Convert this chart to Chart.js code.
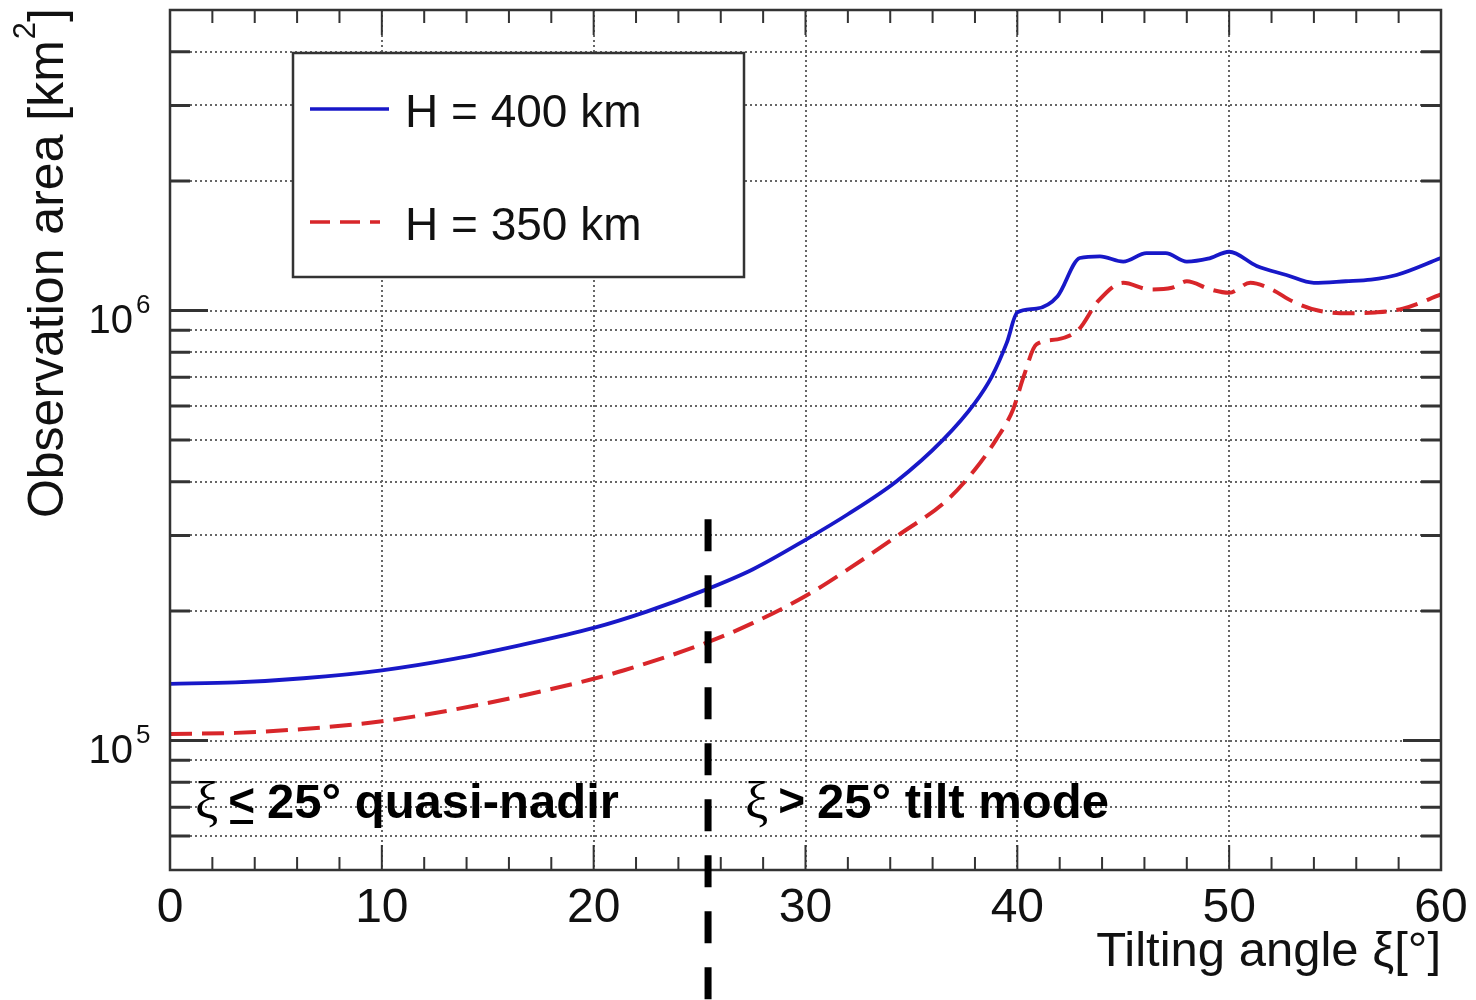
<!DOCTYPE html>
<html>
<head>
<meta charset="utf-8">
<script src="https://cdn.jsdelivr.net/npm/chart.js@4.4.1/dist/chart.umd.min.js"></script>
<style>
  html, body { margin:0; padding:0; background:#fff; }
  #wrap { width:1476px; height:1000px; position:relative; }
</style>
</head>
<body>
<div id="wrap"><canvas id="areaChart"></canvas></div>
<script>
// observation area [km2] against tilting angle, two orbit heights
const tilt400 = [0, 3.1, 6.3, 10, 13.4, 16.5, 20, 22.5, 25.3, 27.5, 30, 32, 34.3, 36.5, 38, 38.8, 39.5, 40,
  40.9, 41.9, 42.95, 43.9, 45, 46.1, 47, 48, 49, 50, 51.3, 52.7, 54, 55.5, 56.7, 57.9, 60];
const area400 = [1.355e5, 1.365e5, 1.396e5, 1.457e5, 1.549e5, 1.665e5, 1.828e5, 1.995e5, 2.244e5, 2.50e5, 2.93e5,
  3.36e5, 4.01e5, 5.01e5, 6.10e5, 7.03e5, 8.41e5, 9.9e5, 1.01e6, 1.08e6, 1.325e6, 1.337e6, 1.30e6, 1.36e6,
  1.36e6, 1.30e6, 1.32e6, 1.37e6, 1.27e6, 1.21e6, 1.16e6, 1.17e6, 1.18e6, 1.21e6, 1.325e6];

const tilt350 = [0, 3.1, 6.3, 10, 13.4, 16.5, 20, 21.4, 25.3, 27.5, 30, 32, 34.3, 36.7, 38, 39, 39.8, 40.3,
  40.9, 41.9, 42.9, 43.8, 45, 46.25, 47.3, 48, 49.1, 50, 51, 52, 53, 54.2, 55.7, 56.9, 58.2, 60];
const area350 = [1.036e5, 1.042e5, 1.064e5, 1.109e5, 1.180e5, 1.268e5, 1.392e5, 1.455e5, 1.687e5, 1.875e5,
  2.168e5, 2.50e5, 2.985e5, 3.63e5, 4.27e5, 5.01e5, 5.89e5, 7.03e5, 8.34e5, 8.57e5, 9.04e5, 1.05e6, 1.16e6,
  1.12e6, 1.13e6, 1.17e6, 1.12e6, 1.10e6, 1.16e6, 1.12e6, 1.05e6, 1.0e6, 9.86e5, 9.9e5, 1.01e6, 1.09e6];

const seriesNames = ['H = 400 km', 'H = 350 km'];

const xMajorTicks = [0, 10, 20, 30, 40, 50, 60];
const xMinorTicks = [2, 4, 6, 8, 12, 14, 16, 18, 22, 24, 26, 28, 32, 34, 36, 38, 42, 44, 46, 48, 52, 54, 56, 58];
const yDecades = [1e5, 1e6];
const yDecadeExp = ['5', '6'];
const yMinorTicks = [6e4, 7e4, 8e4, 9e4, 2e5, 3e5, 4e5, 5e5, 6e5, 7e5, 8e5, 9e5, 2e6, 3e6, 4e6];

// mode boundary marker and region labels
const modeBoundary = 25.4;
const boundaryTop = 3.27e5;
const nadirLabel = ['ξ', '<', '25° quasi-nadir'];
const tiltLabel = ['ξ', '>', '25° tilt mode'];

const SANS = '"Liberation Sans", Arial, Helvetica, sans-serif';
const SERIF = '"Liberation Serif", "Times New Roman", serif';
const BLUE = '#1818c8';
const RED = '#d8262a';

const decor = {
  id: 'decor',
  afterDraw(chart) {
    const { ctx, chartArea: a, scales: { x, y } } = chart;
    ctx.save();

    // inward tick marks on all four sides
    ctx.strokeStyle = '#333';
    ctx.lineWidth = 2;
    const hTick = (v, len) => {
      const px = x.getPixelForValue(v);
      ctx.beginPath();
      ctx.moveTo(px, a.bottom); ctx.lineTo(px, a.bottom - len);
      ctx.moveTo(px, a.top); ctx.lineTo(px, a.top + len);
      ctx.stroke();
    };
    const vTick = (v, len) => {
      const py = y.getPixelForValue(v);
      ctx.beginPath();
      ctx.moveTo(a.left, py); ctx.lineTo(a.left + len, py);
      ctx.moveTo(a.right, py); ctx.lineTo(a.right - len, py);
      ctx.stroke();
    };
    xMinorTicks.forEach(v => hTick(v, 13));
    xMajorTicks.forEach(v => hTick(v, 25));
    ctx.lineWidth = 3;
    yMinorTicks.forEach(v => vTick(v, 20));
    yDecades.forEach(v => vTick(v, 38));

    // frame
    ctx.lineWidth = 2.5;
    ctx.strokeRect(a.left, a.top, a.right - a.left, a.bottom - a.top);

    // x tick labels
    ctx.fillStyle = '#111';
    ctx.font = '48px ' + SANS;
    ctx.textAlign = 'center';
    ctx.textBaseline = 'alphabetic';
    xMajorTicks.forEach(v => ctx.fillText(String(v), x.getPixelForValue(v), 922));

    // y tick labels as powers of ten
    yDecades.forEach((v, i) => {
      const py = y.getPixelForValue(v);
      ctx.font = '40px ' + SANS;
      ctx.textAlign = 'right';
      ctx.fillText('10', 133, py + 22);
      ctx.font = '26px ' + SANS;
      ctx.textAlign = 'left';
      ctx.fillText(yDecadeExp[i], 136, py + 2);
    });

    // axis titles
    ctx.font = '49px ' + SANS;
    ctx.textAlign = 'right';
    ctx.fillText('Tilting angle ξ[°]', a.right, 966);

    ctx.save();
    ctx.translate(63, 8);
    ctx.rotate(-Math.PI / 2);
    ctx.font = '50px ' + SANS;
    let cx = 0;
    ctx.fillText(']', cx, 0);
    cx -= ctx.measureText(']').width;
    ctx.font = '31px ' + SANS;
    ctx.fillText('2', cx, -28);
    cx -= ctx.measureText('2').width + 1;
    ctx.font = '50px ' + SANS;
    ctx.fillText('Observation area [km', cx, 0);
    ctx.restore();

    // legend box
    const lx = 293, ly = 53, lw = 451, lh = 224;
    ctx.fillStyle = '#fff';
    ctx.fillRect(lx, ly, lw, lh);
    ctx.strokeStyle = '#333';
    ctx.lineWidth = 2.5;
    ctx.strokeRect(lx, ly, lw, lh);
    ctx.lineWidth = 3.5;
    ctx.strokeStyle = BLUE;
    ctx.beginPath(); ctx.moveTo(310, 109); ctx.lineTo(389, 109); ctx.stroke();
    ctx.strokeStyle = RED;
    ctx.setLineDash([20, 10]);
    ctx.beginPath(); ctx.moveTo(310, 222); ctx.lineTo(380, 222); ctx.stroke();
    ctx.setLineDash([]);
    ctx.fillStyle = '#111';
    ctx.font = '46px ' + SANS;
    ctx.textAlign = 'left';
    ctx.fillText(seriesNames[0], 405, 127);
    ctx.fillText(seriesNames[1], 405, 240);

    // region labels
    const drawRegion = (parts, left, underline) => {
      const base = 818;
      ctx.fillStyle = '#000';
      ctx.textAlign = 'left';
      ctx.font = '52px ' + SERIF;
      ctx.fillText(parts[0], left, base);
      let px = left + ctx.measureText(parts[0]).width + 10;
      ctx.font = 'bold 46px ' + SANS;
      ctx.fillText(parts[1], px, base - 2);
      const sw = ctx.measureText(parts[1]).width;
      if (underline) ctx.fillRect(px + 2, base + 2, sw - 4, 4);
      px += sw + 12;
      ctx.font = 'bold 49px ' + SANS;
      ctx.fillText(parts[2], px, base);
    };
    drawRegion(nadirLabel, 195, true);
    drawRegion(tiltLabel, 745, false);

    // boundary between the two modes, runs past the axis
    const bx = x.getPixelForValue(modeBoundary);
    ctx.strokeStyle = '#000';
    ctx.lineWidth = 7;
    ctx.setLineDash([32, 24]);
    ctx.beginPath();
    ctx.moveTo(bx, y.getPixelForValue(boundaryTop));
    ctx.lineTo(bx, chart.height);
    ctx.stroke();

    ctx.restore();
  }
};

new Chart(document.getElementById('areaChart'), {
  type: 'line',
  data: {
    datasets: [
      { label: seriesNames[0], data: tilt400.map((t, i) => ({ x: t, y: area400[i] })),
        borderColor: BLUE, borderWidth: 3.8, pointRadius: 0, cubicInterpolationMode: 'monotone' },
      { label: seriesNames[1], data: tilt350.map((t, i) => ({ x: t, y: area350[i] })),
        borderColor: RED, borderWidth: 4, borderDash: [22, 10], pointRadius: 0, cubicInterpolationMode: 'monotone' }
    ]
  },
  options: {
    responsive: true,
    maintainAspectRatio: false,
    animation: false,
    layout: { padding: { left: 170, right: 35, top: 10, bottom: 130 } },
    plugins: { legend: { display: false }, tooltip: { enabled: false } },
    scales: {
      x: {
        type: 'linear', min: 0, max: 60,
        afterBuildTicks: s => { s.ticks = xMajorTicks.map(v => ({ value: v })); },
        ticks: { display: false },
        grid: { color: '#666', lineWidth: 2, drawTicks: false },
        border: { display: false, dash: [2, 3] }
      },
      y: {
        type: 'logarithmic', min: 5e4, max: 5e6,
        afterBuildTicks: s => { s.ticks = yDecades.concat(yMinorTicks).map(v => ({ value: v })); },
        ticks: { display: false },
        grid: { color: '#666', lineWidth: 2, drawTicks: false },
        border: { display: false, dash: [2, 3] }
      }
    }
  },
  plugins: [decor]
});
</script>
</body>
</html>
